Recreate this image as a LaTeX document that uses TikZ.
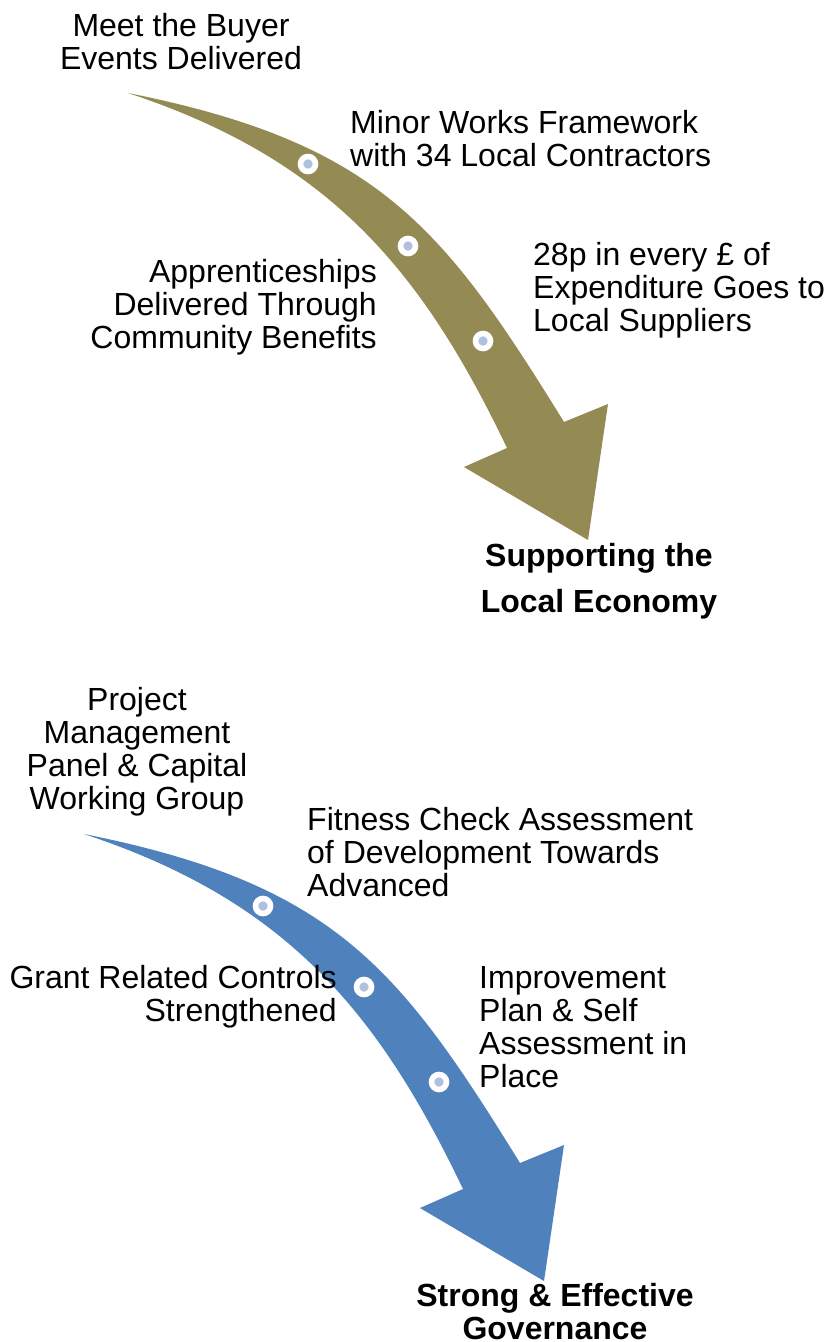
\documentclass[tikz,border=0pt]{standalone}
\usepackage{fontspec}
\setmainfont{Liberation Sans}
\definecolor{olivearrow}{HTML}{948A54}
\definecolor{bluearrow}{HTML}{4F81BD}
\definecolor{dotblue}{HTML}{B0C1DE}
\tikzset{
  curvearrow/.pic={
    \fill[pic actions] (128,93) .. controls (378,143) and (443,226) .. (564,422)
      -- (608,404) -- (588,540) -- (464,467) -- (507,448)
      .. controls (421,268) and (328,159) .. (128,93) -- cycle;
  },
  ringdot/.style={circle, fill=dotblue, draw=white, line width=5.6pt, minimum size=15pt, inner sep=0pt},
  txt/.style={inner sep=0pt, font=\fontsize{32}{33}\selectfont},
  ttl/.style={inner sep=0pt, font=\bfseries\fontsize{32}{33}\selectfont},
}
\begin{document}
\begin{tikzpicture}[x=1pt,y=-1pt]
\useasboundingbox[fill=white] (0,0) rectangle (827,1342);
% arrows
\pic[fill=olivearrow] at (0,0) {curvearrow};
\pic[fill=bluearrow] at (-44,741) {curvearrow};
% dots
\node[ringdot] (a1) at (308,164) {};
\node[ringdot] (a2) at (408,246) {};
\node[ringdot] (a3) at (483,341) {};
\node[ringdot] (b1) at (263,906) {};
\node[ringdot] (b2) at (364,987) {};
\node[ringdot] (b3) at (439,1082) {};
% texts, top (anchor base = baseline of the last line)
\node[txt, anchor=base, align=center] (meet) at (181,69) {Meet the Buyer\\Events Delivered};
\node[txt, anchor=base west, align=left] (minor) at (350,166) {Minor Works Framework\\with 34 Local Contractors};
\node[txt, anchor=base west, align=left] (p28) at (533,331) {28p in every £ of\\Expenditure Goes to\\Local Suppliers};
\node[txt, anchor=base east, align=right] (appr) at (377,348) {Apprenticeships\\Delivered Through\\Community Benefits};
\node[ttl, anchor=base, align=center, font=\bfseries\fontsize{32}{46}\selectfont] (sup) at (599,612) {Supporting the\\Local Economy};
% texts, bottom
\node[txt, anchor=base, align=center] (proj) at (137,809) {Project\\Management\\Panel \& Capital\\Working Group};
\node[txt, anchor=base west, align=left] (fit) at (307,896) {Fitness Check Assessment\\of Development Towards\\Advanced};
\node[txt, anchor=base east, align=right] (grant) at (337,1021) {Grant Related Controls\\Strengthened};
\node[txt, anchor=base west, align=left] (impr) at (479,1087) {Improvement\\Plan \& Self\\Assessment in\\Place};
\node[ttl, anchor=base, align=center] (strong) at (555,1339) {Strong \& Effective\\Governance};
\end{tikzpicture}
\end{document}
